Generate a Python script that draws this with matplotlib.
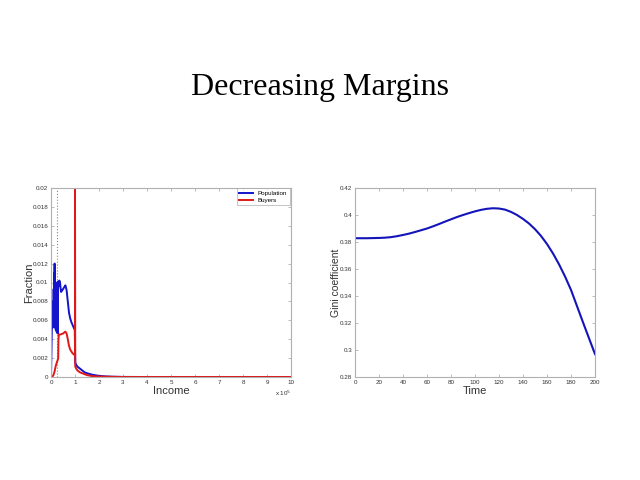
import matplotlib
matplotlib.use("Agg")
import matplotlib.pyplot as plt

# Left panel: income distribution (x in units of 1e5)
pop_x = [0.0, 0.02, 0.04, 0.05, 0.06, 0.07, 0.08, 0.09, 0.10, 0.11, 0.12, 0.13, 0.14, 0.15, 0.16, 0.17,
         0.18, 0.19, 0.20, 0.21, 0.22, 0.23, 0.24, 0.25, 0.26, 0.27, 0.28, 0.29, 0.30, 0.32, 0.35, 0.38,
         0.40, 0.42, 0.45, 0.50, 0.55, 0.60, 0.65, 0.70, 0.75, 0.80, 0.85, 0.90,
         0.95, 0.99, 1.01, 1.05, 1.10, 1.20, 1.30, 1.40, 1.50, 1.70, 2.00, 2.30, 2.60, 3.00, 4.0, 6.0, 8.0, 10.0]
pop_y = [0.0, 0.003, 0.0058, 0.0066, 0.0052, 0.0067, 0.0053, 0.0080, 0.0055, 0.0093, 0.0060, 0.0110,
         0.0062, 0.0120, 0.0058, 0.0098, 0.0052, 0.0094, 0.0050, 0.0100, 0.0049, 0.0096, 0.0048, 0.0099,
         0.0047, 0.0092, 0.0046, 0.0088, 0.0101, 0.0096, 0.0102, 0.0099, 0.0094, 0.0090, 0.0091, 0.0093,
         0.0095, 0.0097, 0.0092, 0.0080, 0.0068, 0.0062, 0.0058, 0.0055, 0.0052, 0.0050, 0.0015, 0.0013,
         0.0011, 0.0009, 0.0007, 0.0005, 0.0004, 0.00025, 0.00012, 0.00006, 0.00003, 0.00001, 0.0, 0.0,
         0.0, 0.0]

buy_x = [0.0, 0.05, 0.10, 0.15, 0.20, 0.25, 0.28, 0.30, 0.31, 0.33, 0.40, 0.50, 0.55, 0.60, 0.65, 0.70,
         0.75, 0.80, 0.85, 0.90, 0.95, 0.99, 1.00, 1.00, 1.01, 1.05, 1.10, 1.20, 1.30, 1.50, 1.70, 2.00,
         2.50, 3.00, 4.0, 6.0, 8.0, 10.0]
buy_y = [0.0, 0.0, 0.0002, 0.0006, 0.0012, 0.0016, 0.0018, 0.0020, 0.0040, 0.0045, 0.0045, 0.0046, 0.0047,
         0.0048, 0.0046, 0.0040, 0.0033, 0.0029, 0.0027, 0.0025, 0.0024, 0.0023, 0.0023, 0.0210, 0.0011,
         0.0009, 0.0007, 0.0005, 0.0004, 0.0002, 0.0001, 0.00005, 0.00002, 0.0, 0.0, 0.0, 0.0, 0.0]

income_ticks = list(range(0, 11))
fraction_ticks = [0, 0.002, 0.004, 0.006, 0.008, 0.01, 0.012, 0.014, 0.016, 0.018, 0.02]
fraction_labels = ["0", "0.002", "0.004", "0.006", "0.008", "0.01", "0.012", "0.014", "0.016", "0.018", "0.02"]

# Right panel: Gini coefficient over time
time = [0, 5, 10, 15, 20, 25, 30, 35, 40, 45, 50, 55, 60, 65, 70, 75, 80, 85, 90, 95, 100,
        105, 110, 115, 120, 125, 130, 135, 140, 145, 150, 155, 160, 165, 170, 175, 180, 185, 190, 195, 200]
gini = [0.3828, 0.3828, 0.3828, 0.3829, 0.3830, 0.3832, 0.3836, 0.3843, 0.3852, 0.3862, 0.3874, 0.3887,
        0.3900, 0.3916, 0.3933, 0.3951, 0.3968, 0.3985, 0.4000, 0.4014, 0.4027, 0.4038, 0.4046, 0.4050,
        0.4048, 0.4040, 0.4023, 0.4000, 0.3971, 0.3937, 0.3895, 0.3845, 0.3785, 0.3715, 0.3635, 0.3545,
        0.3445, 0.3325, 0.3205, 0.3087, 0.2970]
time_ticks = list(range(0, 201, 20))
gini_ticks = [0.28, 0.30, 0.32, 0.34, 0.36, 0.38, 0.40, 0.42]
gini_labels = ["0.28", "0.3", "0.32", "0.34", "0.36", "0.38", "0.4", "0.42"]

plt.rcParams['font.family'] = ['Liberation Sans', 'DejaVu Sans']
fig = plt.figure(figsize=(6.4, 4.8), dpi=100)
fig.patch.set_facecolor('white')

fig.text(0.5, 0.818, "Decreasing Margins", ha='center', va='center',
         fontsize=23, family='Liberation Serif')

spine_col = '#b0b0b0'

def style(ax):
    for s in ax.spines.values():
        s.set_color(spine_col)
        s.set_linewidth(0.8)
    ax.tick_params(direction='in', length=2.5, width=0.6, colors=spine_col,
                   labelcolor='#333333', labelsize=4.5, top=True, right=True, pad=2)

ax1 = fig.add_axes([51/640, 1-377/480, 240/640, 189/480])
ax1.axvline(0.25, color='#888888', linestyle=':', linewidth=0.8)
ax1.plot(pop_x, pop_y, color='#1414cc', linewidth=1.4, label='Population')
ax1.plot(buy_x, buy_y, color='#e01818', linewidth=1.4, label='Buyers')
ax1.set_xlim(0, 10)
ax1.set_ylim(0, 0.02)
ax1.set_xticks(income_ticks)
ax1.set_yticks(fraction_ticks)
ax1.set_yticklabels(fraction_labels)
style(ax1)
ax1.set_xlabel("Income", fontsize=8, color='#333333')
ax1.set_ylabel("Fraction", fontsize=8, color='#333333')
ax1.xaxis.set_label_coords(0.5, -0.048)
ax1.yaxis.set_label_coords(-0.072, 0.5)
ax1.text(1.0, -0.085, r"x 10$^5$", transform=ax1.transAxes, ha='right', va='center',
         fontsize=4.5, color='#333333')
leg = ax1.legend(loc='upper right', fontsize=4.5, frameon=True, fancybox=False,
                 edgecolor='#999999', handlelength=2.2, borderpad=0.4, labelspacing=0.2,
                 bbox_to_anchor=(0.995, 0.998), borderaxespad=0)
leg.get_frame().set_linewidth(0.5)

ax2 = fig.add_axes([355/640, 1-377/480, 240/640, 189/480])
ax2.plot(time, gini, color='#1414bb', linewidth=1.5)
ax2.set_xlim(0, 200)
ax2.set_ylim(0.28, 0.42)
ax2.set_xticks(time_ticks)
ax2.set_yticks(gini_ticks)
ax2.set_yticklabels(gini_labels)
style(ax2)
ax2.set_xlabel("Time", fontsize=8, color='#333333')
ax2.set_ylabel("Gini coefficient", fontsize=7.5, color='#333333')
ax2.xaxis.set_label_coords(0.5, -0.048)
ax2.yaxis.set_label_coords(-0.06, 0.5)

fig.savefig("out.png", dpi=100, facecolor='white')
